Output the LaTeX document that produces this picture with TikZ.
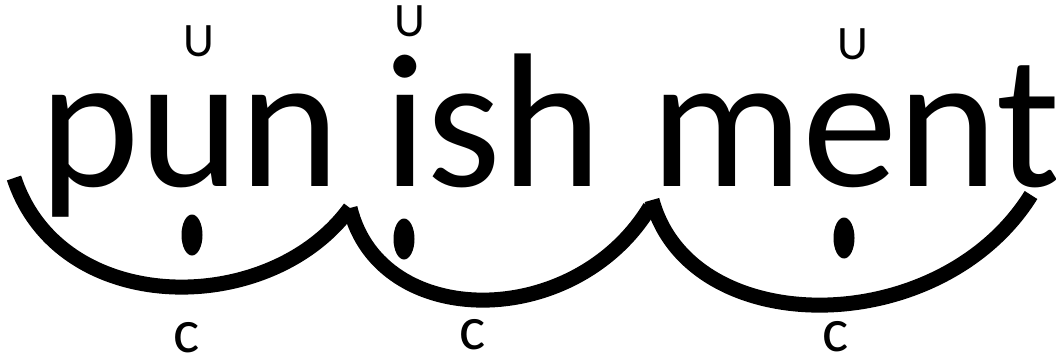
\documentclass[tikz,border=0pt]{standalone}
\usepackage{fontspec}
\setmainfont{Carlito}
\usetikzlibrary{shapes.geometric}
\tikzset{
  syl/.style={inner sep=0pt, anchor=base west, font=\fontsize{191}{191}\selectfont},
  brv/.style={inner sep=0pt, anchor=base, font=\fontsize{48}{48}\selectfont},
  clbl/.style={inner sep=0pt, anchor=base, font=\fontsize{62}{62}\selectfont},
  dotv/.style={ellipse, fill=black, inner sep=0pt, minimum width=21pt, minimum height=41pt},
  sweep/.style={line width=15pt}
}

\begin{document}
\begin{tikzpicture}[x=1pt, y=-1pt]
  \useasboundingbox (0,0) rectangle (1056,358);
  % syllables
  \foreach \x/\s in {39/pun, 383/ish, 650/ment}{
    \node[syl] (\s) at (\x,186) {\s};
  }
  % U over the vowel, dot under it, c below the foot
  \foreach \n/\bx/\by/\dx/\dy/\cx/\cy in {1/199/57/192/235/187/352,
      2/410/37/404/239/473/349, 3/853/60/844/238/836/351}{
    \node[brv] (u\n) at (\bx,\by) {U};
    \node[dotv] (v\n) at (\dx,\dy) {};
    \node[clbl] (c\n) at (\cx,\cy) {c};
  }
  % feet
  \coordinate (f0) at (14,178);
  \coordinate (f1) at (350,208);
  \coordinate (f2) at (650,207);
  \coordinate (f2b) at (652,200);
  \coordinate (f3) at (1031,195);
  \draw[sweep] (f0) .. controls (60,318) and (270,318) .. (f1);
  \draw[sweep] (f1) .. controls (380,331) and (575,331) .. (f2);
  \draw[sweep] (f2b) .. controls (690,341) and (940,341) .. (f3);
\end{tikzpicture}
\end{document}
